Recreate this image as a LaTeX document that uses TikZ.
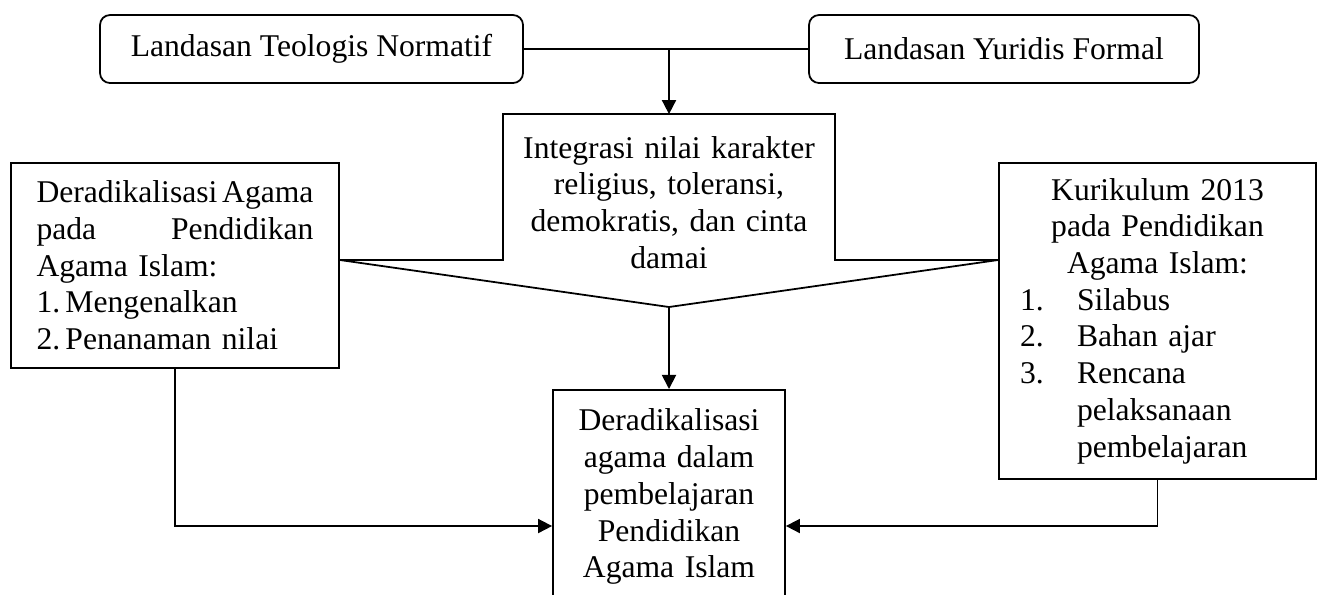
\documentclass[tikz,border=0pt]{standalone}
\usepackage{fontspec}
\setmainfont{Liberation Serif}
\usetikzlibrary{arrows.meta}

\begin{document}
\begin{tikzpicture}[line width=1pt, >={Triangle[length=8pt,width=8pt]},
    every node/.style={font=\fontsize{18}{20.9}\selectfont},
    landasan/.style={draw, rounded corners=0.2cm, minimum height=1.36cm, inner sep=0pt},
    kotak/.style={draw}]
  \useasboundingbox (0,0) rectangle (26.42,-11.88);
  \clip (0,0) rectangle (26.42,-11.88);

  \node[landasan, minimum width=8.46cm] (teo) at (6.23,-0.98) {Landasan Teologis Normatif};
  \node[landasan, minimum width=7.8cm] (yur) at (20.08,-0.98) {Landasan Yuridis Formal};
  \node[text width=6.2cm, minimum width=6.6cm, minimum height=3.5cm, inner sep=0pt, align=center] (integ) at (13.38,-4.05)
    {Integrasi nilai karakter\\ religius, toleransi,\\ demokratis, dan cinta\\ damai};

  \node[kotak, text width=5.54cm, inner xsep=0.51cm, minimum height=4.1cm, align=left] (dera) at (3.5,-5.31)
    {Deradikalisasi\hfill Agama\\ pada\hfill Pendidikan\\ Agama Islam:\\
     \makebox[0.58cm][l]{1.}Mengenalkan\\ \makebox[0.58cm][l]{2.}Penanaman nilai};
  \node[kotak, text width=5.5cm, inner xsep=0.42cm, minimum height=6.32cm, align=center] (kur) at (23.15,-6.42)
    {Kurikulum 2013\\ pada Pendidikan\\ Agama Islam:\\
     \makebox[5.5cm][l]{\makebox[1.14cm][l]{1.}Silabus}\\
     \makebox[5.5cm][l]{\makebox[1.14cm][l]{2.}Bahan ajar}\\
     \makebox[5.5cm][l]{\makebox[1.14cm][l]{3.}Rencana}\\
     \makebox[5.5cm][l]{\hspace{1.14cm}pelaksanaan}\\
     \makebox[5.5cm][l]{\hspace{1.14cm}pembelajaran}};

  \node[kotak, anchor=north, text width=4.2cm, inner xsep=0.22cm, inner ysep=0.38cm, align=center] (hasil) at (13.38,-7.78)
    {Deradikalisasi\\ agama dalam\\ pembelajaran\\ Pendidikan\\ Agama Islam};

  \coordinate (temu) at (13.38,-6.14);
  \coordinate (sisi) at (0,-5.2);
  \coordinate (bawah) at (0,-10.52);

  \draw (teo) -- (yur);
  \draw[->] (teo.east -| integ.north) -- (integ.north);
  \draw (dera.east |- sisi) -- (integ.west |- sisi) -- (integ.north west) -- (integ.north east)
    -- (integ.east |- sisi) -- (kur.west |- sisi);
  \draw (dera.east |- sisi) -- (temu) -- (kur.west |- sisi);
  \draw[->] (temu) -- (hasil);
  \draw[->] (dera.south) |- (hasil.west |- bawah);
  \draw[->] (kur.south) |- (hasil.east |- bawah);
\end{tikzpicture}
\end{document}
